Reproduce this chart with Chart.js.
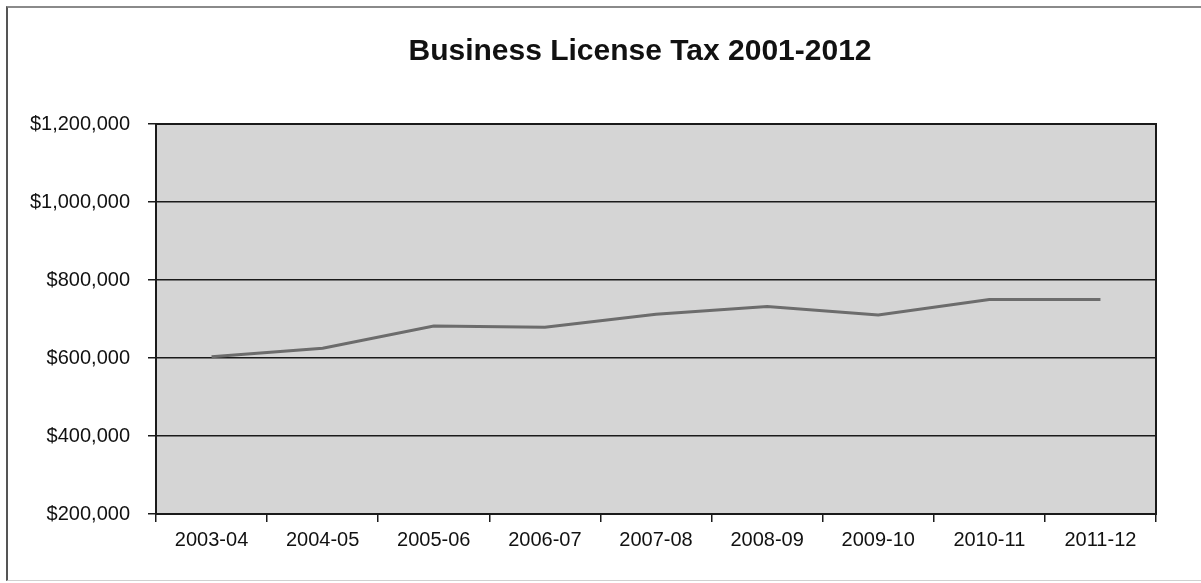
<!DOCTYPE html>
<html>
<head>
<meta charset="utf-8">
<title>Business License Tax 2001-2012</title>
<script src="https://cdn.jsdelivr.net/npm/chart.js@4/dist/chart.umd.min.js"></script>
<style>
  html, body { margin: 0; padding: 0; background: #fff; }
  #frame {
    position: absolute; left: 6px; top: 6px; width: 1200px; height: 572px;
    border-left: 2px solid #555; border-top: 2px solid #8a8a8a; border-bottom: 1px solid #d0d0d0;
  }
  #wrap { position: absolute; left: 0; top: 0; width: 1201px; height: 583px; }
</style>
</head>
<body>
<div id="frame"></div>
<div id="wrap"><canvas id="c" width="1201" height="583"></canvas></div>
<script>
// Fiscal years and business license tax revenue (USD)
const fiscalYears = ['2003-04', '2004-05', '2005-06', '2006-07', '2007-08', '2008-09', '2009-10', '2010-11', '2011-12'];
const taxRevenue = [603000, 625000, 682000, 679000, 712000, 732000, 710000, 750000, 750000];
const yTickValues = [200000, 400000, 600000, 800000, 1000000, 1200000];
const chartTitle = 'Business License Tax 2001-2012';

const FONT = "'Liberation Sans', Arial, sans-serif";

// Grey plot background, black frame around the plot area, and the heading
const plotFrame = {
  id: 'plotFrame',
  beforeDraw(chart) {
    const { ctx, chartArea: a } = chart;
    ctx.save();
    ctx.fillStyle = '#d5d5d5';
    ctx.fillRect(a.left, a.top, a.right - a.left, a.bottom - a.top);
    ctx.restore();
  },
  afterDraw(chart) {
    const { ctx, chartArea: a } = chart;
    ctx.save();
    ctx.strokeStyle = '#1a1a1a';
    ctx.lineWidth = 2;
    ctx.strokeRect(a.left, a.top, a.right - a.left, a.bottom - a.top);
    // heading, centred on the whole figure including the y labels
    ctx.fillStyle = '#111';
    ctx.font = 'bold 30px ' + FONT;
    ctx.textAlign = 'center';
    ctx.textBaseline = 'middle';
    ctx.fillText(chartTitle, 640, 52);
    ctx.restore();
  }
};

new Chart(document.getElementById('c'), {
  type: 'line',
  data: {
    labels: fiscalYears,
    datasets: [{
      label: 'Business License Tax',
      data: taxRevenue,
      borderColor: '#6c6c6c',
      borderWidth: 3,
      pointRadius: 0,
      tension: 0,
      fill: false
    }]
  },
  options: {
    responsive: false,
    animation: false,
    layout: { padding: { left: 0, right: 45, top: 124, bottom: 0 } },
    plugins: {
      legend: { display: false },
      tooltip: { enabled: false },
      title: { display: false }
    },
    scales: {
      x: {
        offset: true,
        grid: {
          offset: true,
          drawOnChartArea: false,
          drawTicks: true,
          tickLength: 8,
          color: '#1a1a1a',
          lineWidth: 1.5
        },
        border: { display: true, color: '#1a1a1a', width: 2 },
        ticks: {
          color: '#111',
          padding: 6,
          maxRotation: 0,
          font: { family: FONT, size: 20 }
        },
        afterFit(scale) { scale.height = 69; }
      },
      y: {
        min: 200000,
        max: 1200000,
        afterBuildTicks(scale) { scale.ticks = yTickValues.map(v => ({ value: v })); },
        grid: {
          color: '#1a1a1a',
          lineWidth: 1.5,
          drawTicks: true,
          tickLength: 8
        },
        border: { display: true, color: '#1a1a1a', width: 2 },
        ticks: {
          color: '#111',
          padding: 18,
          font: { family: FONT, size: 20 },
          callback: v => '$' + Number(v).toLocaleString('en-US')
        },
        afterFit(scale) { scale.width = 156; }
      }
    }
  },
  plugins: [plotFrame]
});
</script>
</body>
</html>
